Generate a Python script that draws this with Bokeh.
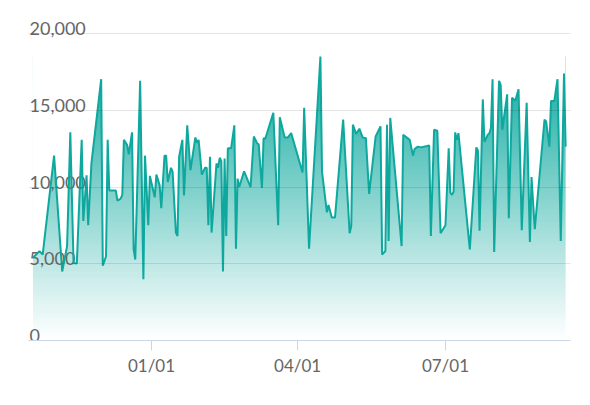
import numpy as np
import pandas as pd
from bokeh.plotting import figure
from bokeh.models import Range1d, FixedTicker, DatetimeTickFormatter, Grid
from bokeh.core.properties import value
from bokeh.embed import file_html
from bokeh.resources import INLINE

dates = [
    "2018-10-20", "2018-10-24", "2018-10-26", "2018-11-02", "2018-11-07", "2018-11-10",
    "2018-11-12", "2018-11-14", "2018-11-16", "2018-11-19", "2018-11-20", "2018-11-22",
    "2018-11-23", "2018-11-25", "2018-12-01", "2018-12-02", "2018-12-04", "2018-12-05",
    "2018-12-06", "2018-12-10", "2018-12-11", "2018-12-13", "2018-12-14", "2018-12-15",
    "2018-12-17", "2018-12-18", "2018-12-20", "2018-12-21", "2018-12-22", "2018-12-25",
    "2018-12-27", "2018-12-28", "2018-12-30", "2018-12-31", "2019-01-03", "2019-01-04",
    "2019-01-06", "2019-01-07", "2019-01-09", "2019-01-10", "2019-01-11", "2019-01-13",
    "2019-01-14", "2019-01-16", "2019-01-17", "2019-01-18", "2019-01-20", "2019-01-21",
    "2019-01-23", "2019-01-25", "2019-01-28", "2019-01-29", "2019-01-30", "2019-02-01",
    "2019-02-03", "2019-02-04", "2019-02-05", "2019-02-06", "2019-02-07", "2019-02-10",
    "2019-02-11", "2019-02-12", "2019-02-13", "2019-02-14", "2019-02-15", "2019-02-16",
    "2019-02-17", "2019-02-19", "2019-02-21", "2019-02-22", "2019-02-23", "2019-02-24",
    "2019-02-27", "2019-03-03", "2019-03-05", "2019-03-07", "2019-03-08", "2019-03-10",
    "2019-03-11", "2019-03-12", "2019-03-17", "2019-03-20", "2019-03-21", "2019-03-24",
    "2019-03-26", "2019-03-28", "2019-04-04", "2019-04-05", "2019-04-08", "2019-04-15",
    "2019-04-16", "2019-04-19", "2019-04-20", "2019-04-22", "2019-04-24", "2019-04-29",
    "2019-05-03", "2019-05-04", "2019-05-05", "2019-05-07", "2019-05-09", "2019-05-11",
    "2019-05-13", "2019-05-15", "2019-05-19", "2019-05-22", "2019-05-23", "2019-05-25",
    "2019-05-26", "2019-05-27", "2019-05-28", "2019-06-04", "2019-06-05", "2019-06-09",
    "2019-06-11", "2019-06-12", "2019-06-14", "2019-06-16", "2019-06-21", "2019-06-22",
    "2019-06-24", "2019-06-26", "2019-06-28", "2019-07-01", "2019-07-03", "2019-07-04",
    "2019-07-05", "2019-07-06", "2019-07-07", "2019-07-08", "2019-07-09", "2019-07-16",
    "2019-07-20", "2019-07-21", "2019-07-22", "2019-07-24", "2019-07-25", "2019-07-27",
    "2019-07-28", "2019-07-29", "2019-07-30", "2019-07-31", "2019-08-03", "2019-08-04",
    "2019-08-05", "2019-08-08", "2019-08-09", "2019-08-11", "2019-08-13", "2019-08-15",
    "2019-08-17", "2019-08-20", "2019-08-22", "2019-08-23", "2019-08-25", "2019-08-31",
    "2019-09-01", "2019-09-03", "2019-09-04", "2019-09-06", "2019-09-08", "2019-09-10",
    "2019-09-12", "2019-09-13",
]

values = [
    5400, 5830, 5600, 12060, 4500, 6150,
    13580, 5060, 5020, 13090, 7800, 10780,
    7520, 11550, 17050, 4880, 5500, 13090,
    9790, 9790, 9130, 9250, 9500, 13090,
    12760, 12140, 13580, 5940, 5280, 16940,
    4000, 12060, 7520, 10740, 9350, 10820,
    10120, 8630, 12060, 12060, 10340, 11270,
    11000, 7040, 6820, 11990, 13090, 9460,
    14040, 11110, 13250, 12900, 13090, 10820,
    11270, 11270, 7520, 11990, 7040, 11550,
    11270, 11920, 11700, 4500, 11880, 6820,
    12540, 12540, 14040, 5990, 10560, 10010,
    11040, 10010, 13310, 12870, 12800, 9950,
    13200, 13150, 14850, 7520, 14570, 13250,
    13250, 13530, 10960, 15180, 5990, 18530,
    11000, 8360, 8840, 8030, 8030, 14410,
    7000, 7480, 14080, 13470, 13820, 13250,
    13200, 9570, 13310, 13970, 5610, 5830,
    14080, 6490, 14520, 6160, 13420, 13090,
    12060, 12490, 12650, 12600, 12720, 6820,
    13750, 13690, 7000, 7520, 12540, 9640,
    9500, 9700, 13580, 13090, 13530, 5940,
    12600, 12400, 7160, 15730, 12960, 13420,
    13500, 13860, 17050, 5770, 16940, 16680,
    13750, 16060, 7970, 15840, 15640, 16390,
    7200, 15510, 6420, 10670, 7260, 14410,
    14300, 12650, 15620, 15620, 17050, 6490,
    17420, 12650,
]

y_ticks = [0, 5000, 10000, 15000, 20000]
y_tick_labels = ["0", "5,000", "10,000", "15,000", "20,000"]
x_ticks = ["2019-01-01", "2019-04-01", "2019-07-01"]
x_view = ["2018-10-17T06:00", "2019-09-16T00:00"]


def to_ms(s):
    t = pd.to_datetime(s, format="ISO8601")
    return ((t - pd.Timestamp("1970-01-01")) // pd.Timedelta("1ms"))


xm = np.asarray(to_ms(dates), dtype=float)
v = np.asarray(values, dtype=float)
x_start, x_end = [float(a) for a in to_ms(x_view)]
tick_ms = [float(a) for a in to_ms(x_ticks)]

LINE = "#0ea89e"
TEAL_RGB = (14, 168, 158)
Y_TOP = 21400

p = figure(
    width=582, height=389,
    x_axis_type="datetime", y_axis_location=None,
    x_range=Range1d(x_start, x_end), y_range=Range1d(0, Y_TOP),
    output_backend="svg", toolbar_location=None,
    min_border_left=28, min_border_right=12,
    min_border_top=12, min_border_bottom=49,
)
p.outline_line_color = None
p.background_fill_color = "white"
p.border_fill_color = "white"
p.xgrid.visible = False
for g in p.ygrid:
    g.visible = False

# gradient fill (teal at data max -> transparent at 0)
N = 300
img = np.zeros((N, 2), dtype=np.uint32)
view = img.view(dtype=np.uint8).reshape((N, 2, 4))
alpha = ((np.arange(N) + 0.5) / N * 255).astype(np.uint8)
view[:, :, 0] = TEAL_RGB[0]
view[:, :, 1] = TEAL_RGB[1]
view[:, :, 2] = TEAL_RGB[2]
view[:, :, 3] = alpha[:, None]
p.image_rgba(image=[img], x=xm[0], y=0, dw=xm[-1] - xm[0], dh=v.max())

# white mask above the line
p.varea(x=xm, y1=v, y2=np.full_like(v, Y_TOP), fill_color="white")

# y labels inside the plot
p.text(x=[x_start] * len(y_ticks), y=y_ticks, text=y_tick_labels,
       text_font=value("Lato"), text_font_size="18px", text_color="#666666",
       text_align="left", text_baseline="alphabetic", x_offset=1, y_offset=-5)

p.line(xm, v, line_color=LINE, line_width=2)

grid = Grid(dimension=1, ticker=FixedTicker(ticks=y_ticks),
            grid_line_color="black", grid_line_alpha=0.1, level="overlay")
p.add_layout(grid)

ax = p.xaxis[0]
ax.ticker = FixedTicker(ticks=tick_ms)
ax.formatter = DatetimeTickFormatter(
    milliseconds="%m/%d", seconds="%m/%d", minsec="%m/%d", minutes="%m/%d",
    hourmin="%m/%d", hours="%m/%d", days="%m/%d", months="%m/%d", years="%m/%d",
    strip_leading_zeros=False, boundary_scaling=False,
)
ax.axis_line_color = "#ccd6eb"
ax.major_tick_line_color = "#ccd6eb"
ax.major_tick_out = 10
ax.major_tick_in = 0
ax.minor_tick_line_color = None
ax.major_label_text_font = "Lato"
ax.major_label_text_font_size = "17px"
ax.major_label_text_color = "#666666"
ax.major_label_standoff = 4

open("out.html", "w").write(file_html(p, INLINE))
